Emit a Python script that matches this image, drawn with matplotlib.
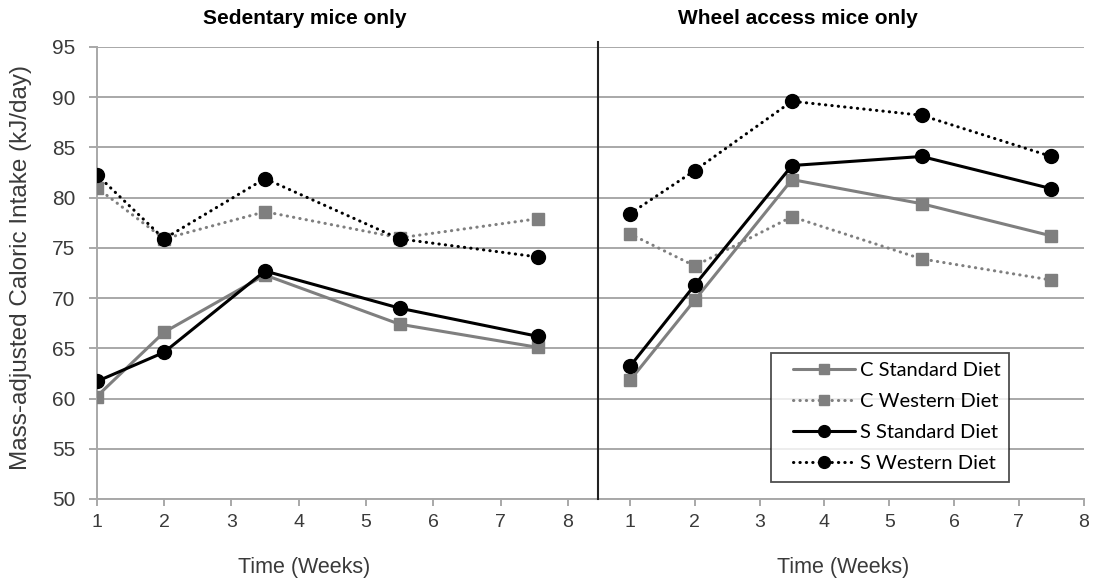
import matplotlib
matplotlib.use("Agg")
import matplotlib.pyplot as plt
from matplotlib.lines import Line2D
from matplotlib.legend_handler import HandlerLine2D

# ---- data ----
sed_weeks = [1, 2, 3.5, 5.5, 7.55]
sed_c_standard = [60.2, 66.6, 72.3, 67.4, 65.1]
sed_c_western = [81.0, 75.9, 78.6, 76.0, 77.9]
sed_s_standard = [61.7, 64.6, 72.7, 69.0, 66.2]
sed_s_western = [82.3, 75.9, 81.9, 75.9, 74.1]

wheel_weeks = [1, 2, 3.5, 5.5, 7.5]
wheel_c_standard = [61.8, 69.8, 81.8, 79.4, 76.2]
wheel_c_western = [76.4, 73.2, 78.1, 73.9, 71.8]
wheel_s_standard = [63.2, 71.3, 83.2, 84.1, 80.9]
wheel_s_western = [78.4, 82.7, 89.6, 88.2, 84.1]

series_names = ["C Standard Diet", "C Western Diet", "S Standard Diet", "S Western Diet"]
x_ticks = [1, 2, 3, 4, 5, 6, 7, 8]
y_ticks = [50, 55, 60, 65, 70, 75, 80, 85, 90, 95]
panel_titles = ["Sedentary mice only", "Wheel access mice only"]
x_label = "Time (Weeks)"
y_label = "Mass-adjusted Caloric Intake (kJ/day)"

GRAY = "#7f7f7f"
GRID = "#a8a8a8"
TXT = "#3a3a3a"
DOT = (0, (0.1, 2.0))
styles = [
    dict(color=GRAY, ls="-", marker="s", ms=8, lw=2.2, mec=GRAY, mfc=GRAY),
    dict(color=GRAY, ls=DOT, marker="s", ms=8, lw=2.2, mec=GRAY, mfc=GRAY),
    dict(color="black", ls="-", marker="o", ms=10, lw=2.2, mec="black", mfc="black"),
    dict(color="black", ls=DOT, marker="o", ms=10, lw=2.2, mec="black", mfc="black"),
]

tickfont = dict(family=["Liberation Sans Narrow", "Liberation Sans", "DejaVu Sans"], size=14)

fig = plt.figure(figsize=(10.95, 5.85), dpi=100)
W, H = 1095.0, 585.0
bot, top = 499.0, 47.0
ax1 = fig.add_axes([96.7 / W, 1 - bot / H, (597.5 - 96.7) / W, (bot - top) / H])
ax2 = fig.add_axes([597.5 / W, 1 - bot / H, (1083.7 - 597.5) / W, (bot - top) / H])

panels = [
    (ax1, sed_weeks, [sed_c_standard, sed_c_western, sed_s_standard, sed_s_western], (1, 8.44)),
    (ax2, wheel_weeks, [wheel_c_standard, wheel_c_western, wheel_s_standard, wheel_s_western], (0.5, 8)),
]

for ax, xs, ys, xl in panels:
    ax.set_xlim(*xl)
    ax.set_ylim(50, 95)
    ax.set_yticks(y_ticks)
    ax.set_xticks(x_ticks)
    ax.grid(axis="y", color=GRID, lw=1.4)
    ax.set_axisbelow(True)
    for name, y, st in zip(series_names, ys, styles):
        ax.plot(xs, y, label=name, solid_capstyle="round", dash_capstyle="round",
                zorder=3, **st)
    for s in ["top", "right"]:
        ax.spines[s].set_visible(False)
    ax.spines["bottom"].set_color(GRID)
    ax.spines["bottom"].set_linewidth(1.4)
    ax.tick_params(axis="x", direction="out", length=5, width=1.4, color=GRID, pad=6,
                   labelcolor=TXT)
    for lab in ax.get_xticklabels():
        lab.set_fontproperties(tickfont)

# left panel y axis
ax1.spines["left"].set_color(GRID)
ax1.spines["left"].set_linewidth(1.4)
ax1.tick_params(axis="y", direction="out", length=7.7 * 72 / 100, width=1.4, color=GRID,
                pad=10, labelcolor=TXT)
for lab in ax1.get_yticklabels():
    lab.set_fontproperties(dict(tickfont, size=15))
ax1.xaxis.get_major_ticks()[-1].tick1line.set_color("black")

# right panel: black divider, no y labels
ax2.spines["left"].set_visible(False)
ax2.tick_params(axis="y", left=False, labelleft=False)
ax2.add_line(Line2D([0, 0], [0, 1.01], transform=ax2.transAxes, color="#222222",
                    lw=1.5, clip_on=False, zorder=4))

# titles and labels
title_font = dict(family=["Liberation Sans", "DejaVu Sans"], size=15, weight="bold")
fig.text(305 / W, 1 - 19 / H, panel_titles[0], ha="center", va="center", **title_font)
fig.text(798 / W, 1 - 19 / H, panel_titles[1], ha="center", va="center", **title_font)
lab_font = dict(family=["Liberation Sans", "DejaVu Sans"], size=15.5, color=TXT)
fig.text(304 / W, 1 - 567 / H, x_label, ha="center", va="center", **lab_font)
fig.text(843 / W, 1 - 567 / H, x_label, ha="center", va="center", **lab_font)
fig.text(21 / W, 1 - 268 / H, y_label, ha="center", va="center", rotation=90,
         **dict(lab_font, size=17.5))

# legend
LFS = 14.5
fs_px = LFS * 100 / 72.0
shift_px = 13.0
line_px = 62.0
handles, labels = ax2.get_legend_handles_labels()
leg = fig.legend(handles, labels, loc="upper left",
                 bbox_to_anchor=(770.5 / W, 1 - 352.7 / H),
                 prop=dict(family=["Lato", "DejaVu Sans"], size=LFS),
                 frameon=True, fancybox=False, edgecolor="#222222",
                 handlelength=(line_px + shift_px) / fs_px,
                 handletextpad=5 / fs_px,
                 labelspacing=0.7,
                 borderpad=0.45, borderaxespad=0, markerscale=0.85,
                 handler_map={Line2D: HandlerLine2D(xpad=shift_px / fs_px)})
leg.get_frame().set_linewidth(1.3)
leg.set_zorder(10)

fig.savefig("out.png", dpi=100)
